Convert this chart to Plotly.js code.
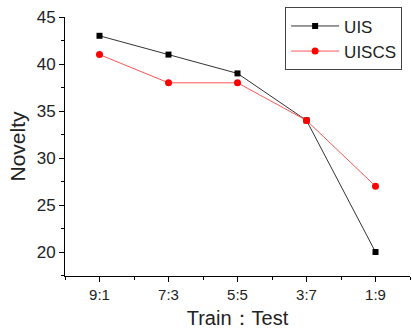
<!DOCTYPE html>
<html><head><meta charset="utf-8">
<script src="https://cdn.plot.ly/plotly-3.0.1.min.js"></script>
<style>html,body{margin:0;padding:0;background:#fff}#c{width:412px;height:334px}</style>
</head><body><div id="c"></div>
<script>
const categories = ['9:1', '7:3', '5:5', '3:7', '1:9'];
const uis = [43, 41, 39, 34, 20];
const uiscs = [41, 38, 38, 34, 27];
const xs = categories.map((c, i) => i);
const font = 'Arial, "Liberation Sans", sans-serif';
const traces = [
  {x: xs, y: uis, name: 'UIS', mode: 'lines+markers', type: 'scatter',
   line: {color: '#333', width: 1}, marker: {symbol: 'square', size: 6, color: '#000'}},
  {x: xs, y: uiscs, name: 'UISCS', mode: 'lines+markers', type: 'scatter',
   line: {color: '#ff5555', width: 1}, marker: {symbol: 'circle', size: 7, color: '#ff0000'}}
];
const layout = {
  width: 412, height: 334,
  margin: {l: 65, r: 2, t: 17, b: 58},
  paper_bgcolor: '#fff', plot_bgcolor: '#fff',
  font: {family: font, color: '#222'},
  showlegend: true,
  legend: {x: 0.638, y: 1.037, xanchor: 'left', yanchor: 'top', bordercolor: '#444', borderwidth: 1,
    bgcolor: '#fff', font: {size: 17, family: font}, tracegroupgap: 0, itemwidth: 48},
  xaxis: {range: [-0.5, 4.5], tickmode: 'array', tickvals: xs, ticktext: categories,
    showgrid: false, zeroline: false, showline: true, linecolor: '#000', linewidth: 1,
    ticks: 'outside', ticklen: 5, tickcolor: '#000', tickfont: {size: 15},
    minor: {dtick: 0.5, tick0: -0.5, ticks: 'outside', ticklen: 3, tickcolor: '#000', showgrid: false},
    title: {text: 'Train：Test', font: {size: 20}, standoff: 8}},
  yaxis: {range: [17.45, 45], tickmode: 'array', tickvals: [20, 25, 30, 35, 40, 45],
    showgrid: false, zeroline: false, showline: true, linecolor: '#000', linewidth: 1,
    ticks: 'outside', ticklen: 5, tickcolor: '#000', tickfont: {size: 17},
    minor: {dtick: 2.5, tick0: 17.5, ticks: 'outside', ticklen: 3, tickcolor: '#000', showgrid: false},
    title: {text: 'Novelty', font: {size: 21}, standoff: 5}}
};
Plotly.newPlot('c', traces, layout, {displayModeBar: false, staticPlot: true});
</script></body></html>
